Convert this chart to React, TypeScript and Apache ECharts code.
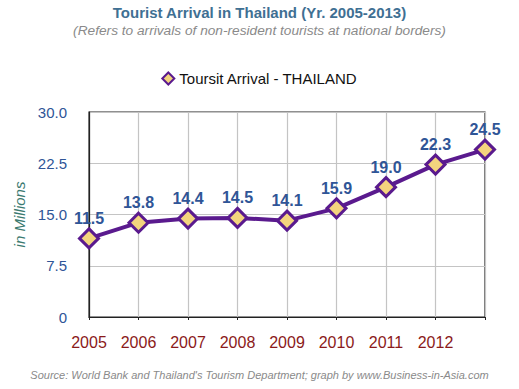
import React, { useEffect, useRef } from "react";
import * as echarts from "echarts";

const years = ["2005", "2006", "2007", "2008", "2009", "2010", "2011", "2012", "2013"];
const arrivals = [11.5, 13.8, 14.4, 14.5, 14.1, 15.9, 19.0, 22.3, 24.5];
const seriesName = "Toursit Arrival - THAILAND";
const FONT = "'Liberation Sans', Arial, Helvetica, sans-serif";

export default function App() {
  const ref = useRef<HTMLDivElement>(null);
  useEffect(() => {
    document.body.style.margin = "0";
    if (!ref.current) return;
    const chart = echarts.init(ref.current, undefined, { renderer: "svg" });
    chart.setOption({
      animation: false,
      textStyle: { fontFamily: FONT },
      title: {
        text: "Tourist Arrival in Thailand (Yr. 2005-2013)",
        subtext: "(Refers to arrivals of non-resident tourists at national borders)",
        left: "center",
        top: 0,
        itemGap: 3,
        textStyle: { fontFamily: FONT, fontSize: 15, fontWeight: "bold", color: "#3f7093" },
        subtextStyle: { fontFamily: FONT, fontSize: 13.7, fontStyle: "italic", color: "#8a8a8a" },
      },
      legend: {
        top: 66,
        left: "center",
        icon: "diamond",
        itemWidth: 12,
        itemHeight: 12,
        textStyle: { fontFamily: FONT, fontSize: 15, color: "#111" },
        data: [seriesName],
      },
      grid: {
        left: 89,
        right: 34,
        top: 112,
        bottom: 72,
        show: true,
        borderColor: "#222",
        borderWidth: 1.2,
        containLabel: false,
      },
      xAxis: {
        type: "category",
        data: years,
        boundaryGap: false,
        axisLine: { lineStyle: { color: "#222", width: 1.2 } },
        axisTick: { show: true, length: 3, lineStyle: { color: "#222" } },
        splitLine: { show: true, lineStyle: { color: "#c4c4c4", width: 1.2 } },
        axisLabel: {
          margin: 17,
          fontSize: 16,
          color: "#8b1a1a",
          fontFamily: FONT,
          formatter: (v: string) => (v === "2013" ? "" : v),
        },
      },
      yAxis: {
        type: "value",
        min: 0,
        max: 30,
        interval: 7.5,
        name: "in Millions",
        nameLocation: "middle",
        nameGap: 62,
        nameRotate: 90,
        nameTextStyle: { fontFamily: FONT, fontSize: 15, fontStyle: "italic", color: "#3b7a70" },
        axisLine: { show: true, lineStyle: { color: "#222", width: 1.2 } },
        axisTick: { show: false },
        splitLine: { show: true, lineStyle: { color: "#c4c4c4", width: 1.2 } },
        axisLabel: {
          margin: 22,
          fontSize: 15,
          color: "#2f5597",
          fontFamily: FONT,
          formatter: (v: number) => (v === 0 ? "0" : v.toFixed(1)),
        },
      },
      series: [
        {
          name: seriesName,
          type: "line",
          data: arrivals,
          symbol: "diamond",
          symbolSize: 19,
          lineStyle: { color: "#5a1a8e", width: 4 },
          itemStyle: { color: "#f3d47e", borderColor: "#5a1a8e", borderWidth: 3 },
          label: {
            show: true,
            position: "top",
            distance: 1,
            fontSize: 16,
            fontWeight: "bold",
            color: "#2f5597",
            fontFamily: FONT,
            formatter: (p: any) => Number(p.value).toFixed(1),
          },
        },
      ],
      graphic: [
        {
          type: "text",
          left: "center",
          top: 369,
          style: {
            text: "Source: World Bank and Thailand's Tourism Department; graph by www.Business-in-Asia.com",
            fontFamily: FONT,
            fontSize: 11,
            fontStyle: "italic",
            fill: "#8a8a8a",
          },
        },
      ],
    });
    return () => chart.dispose();
  }, []);
  return <div ref={ref} style={{ width: 519, height: 389 }} />;
}
